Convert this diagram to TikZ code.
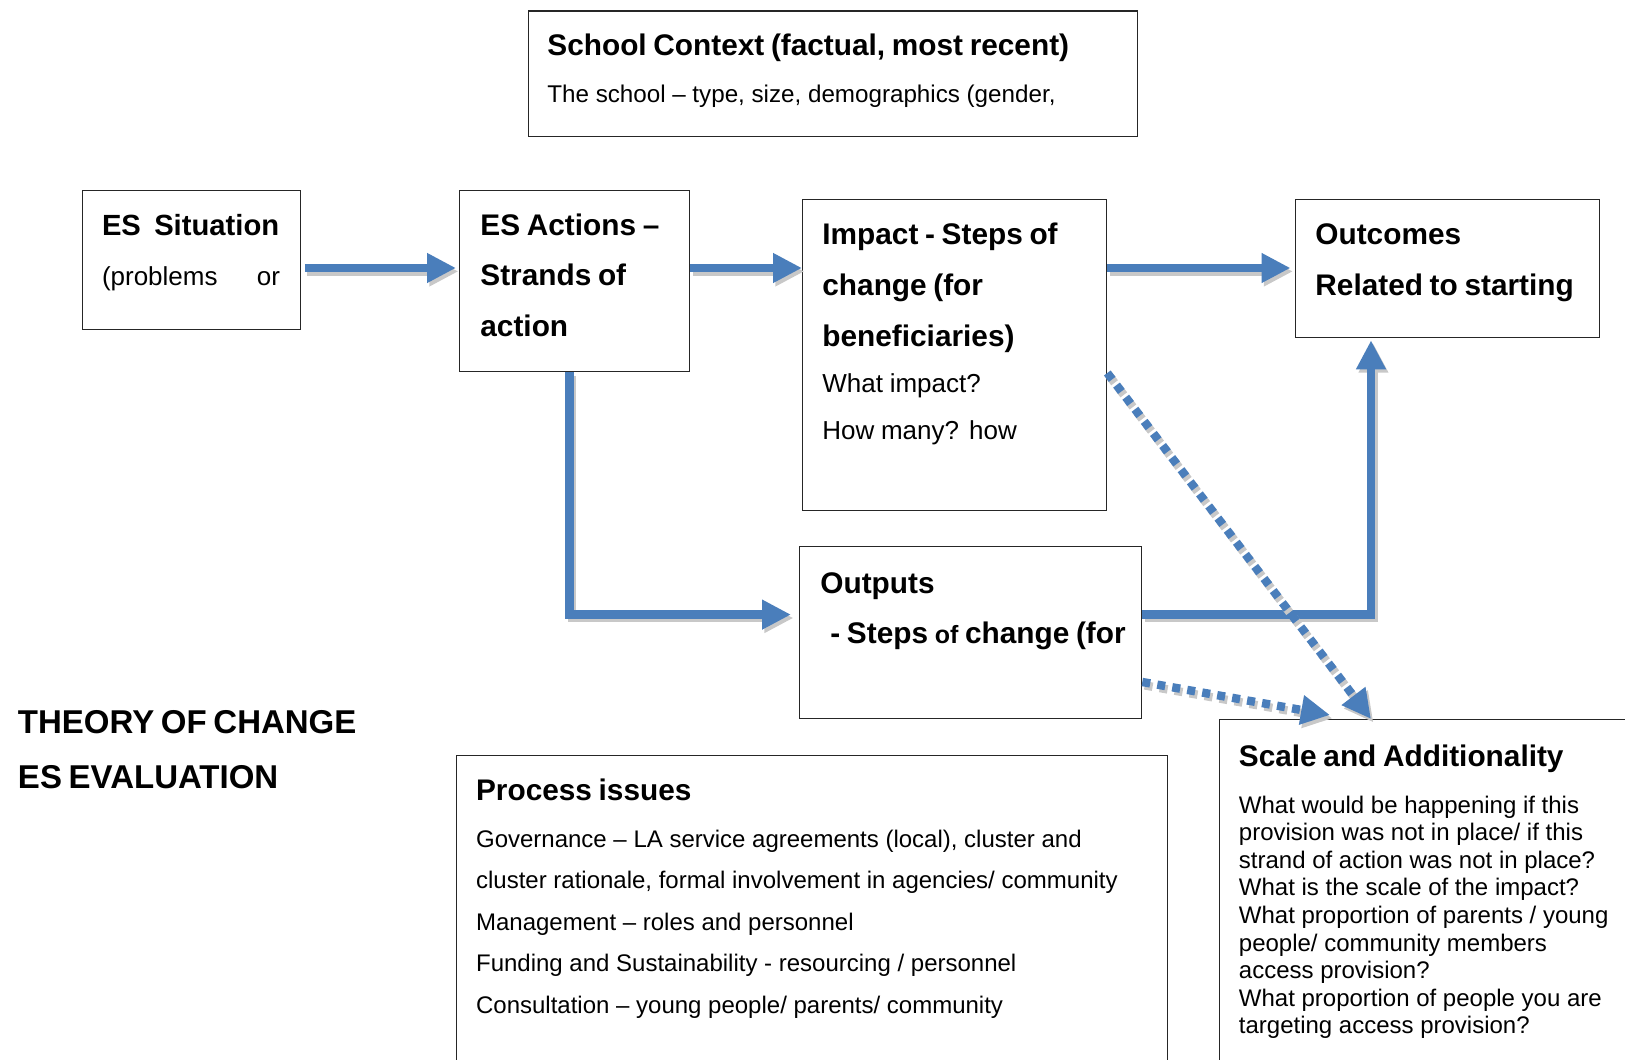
\documentclass[tikz,border=0pt]{standalone}
\usepackage{fontspec}
\setmainfont{Liberation Sans}
\usetikzlibrary{positioning}
\usetikzlibrary{arrows.meta}
\definecolor{esblue}{HTML}{4A7EBB}
\definecolor{esshadow}{HTML}{C8C8C8}
\newcommand{\hd}{\fontsize{14.9}{25.4}\selectfont\bfseries}
\newcommand{\bd}{\fontsize{13}{23.3}\selectfont}
\newcommand{\sm}{\fontsize{12}{20.7}\selectfont}
% shadow first, then the blue arrow on top
\newcommand{\flowpath}[2][]{%
  \draw [flow, draw=esshadow, transform canvas={xshift=1.2pt, yshift=-1.7pt}, #1] #2;
  \draw [flow, #1] #2;}

\begin{document}
\begin{tikzpicture}[
      x=0.5pt, y=-0.5pt,
      block/.style={rectangle, draw=black!85, line width=0.65pt, anchor=north west, inner sep=0pt},
      blocktext/.style={anchor=base west, inner sep=0pt, align=left},
      flow/.style={line width=4.2pt, draw=esblue, -{Triangle[length=14.5pt,width=14pt]}},
      dots/.style={dash pattern=on 4pt off 3.6pt}
    ]
    \useasboundingbox (0,0) rectangle (1625,1059);

    % boxes
    \node [block, minimum width=304.8pt, minimum height=62.7pt] (school) at (527.5,10.4) {};
    \node [block, minimum width=108.8pt, minimum height=69.4pt] (situation) at (81.9,189.7) {};
    \node [block, minimum width=115pt, minimum height=90.7pt] (actions) at (459,189.7) {};
    \node [block, minimum width=152pt, minimum height=155.5pt] (impact) at (802,199) {};
    \node [block, minimum width=152.3pt, minimum height=69pt] (outcomes) at (1294.5,199) {};
    \node [block, minimum width=171pt, minimum height=86pt] (outputs) at (799,546) {};
    \node [block, minimum width=355.5pt, minimum height=200pt] (process) at (456,754.5) {};
    \node [block, minimum width=225pt, minimum height=200pt] (scale) at (1219,719) {};

    % texts
    \node [blocktext, text width=290pt] (schoolText) at (547,56)
      {{\hd School Context (factual, most recent)\par}{\fontsize{12.1}{23.5}\selectfont The school -- type, size, demographics (gender,\par}};
    \node [blocktext, text width=89pt] (situationText) at (101.6,235)
      {{\fontsize{14.6}{25.4}\selectfont\bfseries \mbox{ES~ Situation}\par}{\fontsize{13}{25}\selectfont (problems\hfill or\par}};
    \node [blocktext, text width=100pt] (actionsText) at (480,235)
      {{\hd ES Actions --\\ Strands of\\ action\par}};
    \node [blocktext, text width=140pt] (impactText) at (822,244.5)
      {{\hd Impact - Steps of\\ change (for\\ beneficiaries)\par}{\bd What impact?\\ How many? how\par}};
    \node [blocktext, text width=140pt] (outcomesText) at (1315,244.5)
      {{\hd Outcomes\\ Related to starting\par}};
    \node [blocktext, text width=165pt] (outputsText) at (820,593)
      {{\hd Outputs\\ \hspace*{5pt}- Steps {\fontsize{12.5}{25}\selectfont of} change (for\par}};
    \node [blocktext, text width=340pt] (processText) at (475.7,800)
      {{\hd Process issues\par}\vspace{3pt}{\sm Governance -- LA service agreements (local), cluster and\\
       cluster rationale, formal involvement in agencies/ community\\
       Management -- roles and personnel\\
       Funding and Sustainability - resourcing / personnel\\
       Consultation -- young people/ parents/ community\par}};
    \node [blocktext, text width=200pt] (scaleText) at (1238.5,766)
      {{\hd Scale and Additionality\par}\vspace{9.7pt}{\fontsize{12}{13.8}\selectfont What would be happening if this\\
       provision was not in place/ if this\\
       strand of action was not in place?\\
       What is the scale of the impact?\\
       What proportion of parents / young\\
       people/ community members\\
       access provision?\\
       \makebox[189pt][s]{What proportion of people you are}\\
       targeting access provision?\par}};
    \node [blocktext, text width=200pt] (theoryText) at (17.6,733)
      {{\fontsize{16.5}{27.5}\selectfont\bfseries THEORY OF CHANGE\\ ES EVALUATION\par}};

    % connectors
    \coordinate (topRow) at (0,268);
    \coordinate (lowRow) at (0,614.6);
    \coordinate (dotRow) at (0,373);
    \coordinate (riseX) at (1371,0);
    \coordinate (dotEnd) at (1330,715);
    \coordinate (dotStart) at (0,682);

    \flowpath[shorten <=2pt, shorten >=1.5pt]{(situation.east |- topRow) -- (actions.west |- topRow)}
    \flowpath{(actions.east |- topRow) -- (impact.west |- topRow)}
    \flowpath[shorten >=2pt]{(impact.east |- topRow) -- (outcomes.west |- topRow)}
    \flowpath[shorten >=4pt]{([xshift=-2.5pt]actions.south) |- (outputs.west |- lowRow)}
    \flowpath[shorten >=1pt]{(outputs.east |- lowRow) -| (riseX |- outcomes.south)}
    \flowpath[dots]{(impact.east |- dotRow) -- (riseX |- scale.north)}
    \flowpath[dots]{(outputs.east |- dotStart) -- (dotEnd)}
  \end{tikzpicture}
\end{document}
